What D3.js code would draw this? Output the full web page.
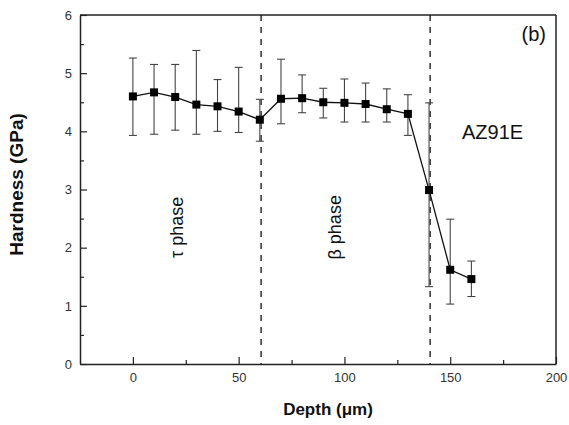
<!DOCTYPE html>
<html>
<head>
<meta charset="utf-8">
<script src="https://cdn.jsdelivr.net/npm/d3@7"></script>
<style>
  html, body { margin: 0; padding: 0; background: #fff; }
  svg { display: block; }
  text { font-family: Arial, "Liberation Sans", sans-serif; }
</style>
</head>
<body>
<svg id="chart" width="569" height="425"></svg>
<script>
// ---- data ----
const depth      = [0, 10, 20, 30, 40, 50, 60, 70, 80, 90, 100, 110, 120, 130, 140, 150, 160];
const hardness   = [4.60, 4.67, 4.59, 4.46, 4.43, 4.34, 4.20, 4.56, 4.57, 4.50, 4.49, 4.47, 4.38, 4.30, 2.99, 1.62, 1.46];
const errUpper   = [5.26, 5.15, 5.15, 5.39, 4.89, 5.10, 4.55, 5.24, 4.97, 4.74, 4.90, 4.83, 4.73, 4.63, 4.49, 2.49, 1.77];
const errLower   = [3.93, 3.95, 4.02, 3.95, 4.00, 3.98, 3.83, 4.13, 4.32, 4.23, 4.16, 4.16, 4.16, 3.93, 1.33, 1.03, 1.16];
const phaseBounds = [60.6, 140.5];
const xTicks      = [0, 50, 100, 150, 200];
const xMinorTicks = [25, 75, 125, 175];
const yTicks      = [0, 1, 2, 3, 4, 5, 6];
const yMinorTicks = [0.5, 1.5, 2.5, 3.5, 4.5, 5.5];
const phaseLabels = [{ text: "τ phase", x: 23.5 }, { text: "β phase", x: 98.5 }];

// ---- layout ----
const svg = d3.select("#chart");
const L = 80, R = 556, T = 15, B = 364;
const x = d3.scaleLinear().domain([-25, 200]).range([L, R]);
const y = d3.scaleLinear().domain([0, 6]).range([B, T]);
const axisColor = "#222";
const labelColor = "#333";

// frame (top & right)
svg.append("line").attr("x1", L).attr("x2", R).attr("y1", T).attr("y2", T)
  .attr("stroke", axisColor).attr("stroke-width", 1.5);
svg.append("line").attr("x1", R).attr("x2", R).attr("y1", T).attr("y2", B)
  .attr("stroke", axisColor).attr("stroke-width", 1.5);

// x axis
svg.append("g").attr("transform", `translate(0,${B})`)
  .call(d3.axisBottom(x).tickValues(xTicks).tickSizeInner(-7).tickSizeOuter(0).tickPadding(9).tickFormat(d3.format("d")));
svg.append("g").attr("transform", `translate(0,${B})`)
  .call(d3.axisBottom(x).tickValues(xMinorTicks).tickSizeInner(-4).tickSizeOuter(0).tickFormat(""))
  .select(".domain").remove();

// y axis
svg.append("g").attr("transform", `translate(${L},0)`)
  .call(d3.axisLeft(y).tickValues(yTicks).tickSizeInner(-7).tickSizeOuter(0).tickPadding(8).tickFormat(d3.format("d")));
svg.append("g").attr("transform", `translate(${L},0)`)
  .call(d3.axisLeft(y).tickValues(yMinorTicks).tickSizeInner(-4).tickSizeOuter(0).tickFormat(""))
  .select(".domain").remove();

svg.selectAll(".domain").attr("stroke", axisColor).attr("stroke-width", 1.5);
svg.selectAll(".tick line").attr("stroke", axisColor).attr("stroke-width", 1.2);
svg.selectAll(".tick text").attr("font-size", 13).attr("fill", labelColor)
  .attr("font-family", "Arial, 'Liberation Sans', sans-serif");

// axis titles
svg.append("text").attr("x", (L + R) / 2 + 10).attr("y", 415)
  .attr("text-anchor", "middle").attr("font-size", 17).attr("font-weight", "bold").attr("fill", "#111")
  .text("Depth (μm)");
svg.append("text").attr("transform", `translate(23,${(T + B) / 2 - 5}) rotate(-90)`)
  .attr("text-anchor", "middle").attr("font-size", 19).attr("font-weight", "bold").attr("fill", "#111")
  .text("Hardness (GPa)");

// phase boundaries
svg.selectAll(".bound").data(phaseBounds).join("line").attr("class", "bound")
  .attr("x1", d => x(d)).attr("x2", d => x(d)).attr("y1", T).attr("y2", B)
  .attr("stroke", "#111").attr("stroke-width", 1.3).attr("stroke-dasharray", "6,6");

// phase labels
svg.selectAll(".phase").data(phaseLabels).join("text").attr("class", "phase")
  .attr("transform", d => `translate(${x(d.x)},${y(2.35)}) rotate(-90)`)
  .attr("text-anchor", "middle").attr("font-size", 18).attr("fill", "#111")
  .text(d => d.text);

// annotations
svg.append("text").attr("x", 546).attr("y", 41).attr("text-anchor", "end")
  .attr("font-size", 20).attr("fill", "#111").text("(b)");
svg.append("text").attr("x", 462).attr("y", 139).attr("text-anchor", "start")
  .attr("font-size", 20).attr("fill", "#111").text("AZ91E");

// error bars
const pts = depth.map((d, i) => ({ d, h: hardness[i], hi: errUpper[i], lo: errLower[i] }));
const eb = svg.append("g").attr("stroke", "#444").attr("stroke-width", 1.1);
eb.selectAll(".ev").data(pts).join("line")
  .attr("x1", p => x(p.d)).attr("x2", p => x(p.d)).attr("y1", p => y(p.hi)).attr("y2", p => y(p.lo));
eb.selectAll(".ct").data(pts).join("line").attr("class", "ct")
  .attr("x1", p => x(p.d) - 4).attr("x2", p => x(p.d) + 4).attr("y1", p => y(p.hi)).attr("y2", p => y(p.hi));
eb.selectAll(".cb").data(pts).join("line").attr("class", "cb")
  .attr("x1", p => x(p.d) - 4).attr("x2", p => x(p.d) + 4).attr("y1", p => y(p.lo)).attr("y2", p => y(p.lo));

// line
svg.append("path").datum(pts)
  .attr("fill", "none").attr("stroke", "#111").attr("stroke-width", 1.3)
  .attr("d", d3.line().x(p => x(p.d)).y(p => y(p.h)));

// markers
svg.selectAll(".mk").data(pts).join("rect").attr("class", "mk")
  .attr("x", p => x(p.d) - 4).attr("y", p => y(p.h) - 4)
  .attr("width", 8).attr("height", 8).attr("fill", "#000");
</script>
</body>
</html>
